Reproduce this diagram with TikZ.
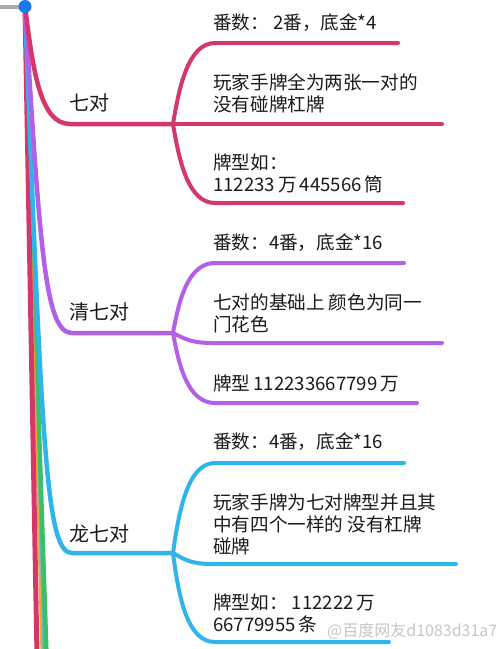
\documentclass[tikz,border=0pt]{standalone}
\usepackage{fontspec}
\newfontfamily\cjk{Noto Sans CJK SC}
\definecolor{cred}{RGB}{212,56,104}
\definecolor{cpurple}{RGB}{178,96,232}
\definecolor{cblue}{RGB}{48,180,236}
\definecolor{cgreen}{RGB}{60,190,108}
\definecolor{corange}{RGB}{242,165,60}
\definecolor{cteal}{RGB}{80,195,195}
\definecolor{croot}{RGB}{24,120,240}
\definecolor{cgray}{RGB}{170,170,170}
\definecolor{ctext}{RGB}{26,26,26}
\begin{document}
\begin{tikzpicture}[x=1pt,y=-1pt,line cap=round,line join=round,
  brline/.style={line width=4pt},
  trunkline/.style={line width=4.5pt},
  leaf/.style={anchor=west,align=left,inner sep=0pt,text=ctext,
    font=\cjk\fontsize{18.6}{22}\selectfont},
  topic/.style={anchor=west,inner sep=0pt,text=ctext,
    font=\cjk\fontsize{20}{24}\selectfont}]
\useasboundingbox (0,0) rectangle (500,649);
\clip (0,0) rectangle (500,649);
\fill[white] (0,0) rectangle (500,649);

% coordinates
\coordinate (r) at (25,6.5);
\coordinate (g) at (0,6.5);
\coordinate (e1) at (37,655);
\coordinate (e2) at (41.5,655);
\coordinate (e3) at (43.5,655);
\coordinate (e4) at (46.5,655);
\coordinate (c1) at (70,124);   \coordinate (h1) at (173,124);
\coordinate (c2) at (72,333);   \coordinate (h2) at (173,333);
\coordinate (c3) at (72,553);   \coordinate (h3) at (173,553);

% thin trunks going further down
\draw[line width=2.5pt,cteal] (r) -- (e3);
\draw[line width=4.5pt,cgreen] (r) -- (e4);
\draw[line width=2pt,corange] (r) -- (e2);
\draw[line width=5pt,cred] (r) -- (e1);

% main trunks
\draw[trunkline,cblue] (r) .. controls (42,450) and (46,553) .. (c3) -- (h3);
\draw[trunkline,cpurple] (r) .. controls (40,250) and (45,333) .. (c2) -- (h2);
\draw[trunkline,cred] (r) .. controls (33,70) and (40,124) .. (c1) -- (h1);

% red branches
\coordinate (a1s) at (215,43);  \coordinate (a1e) at (398,43);
\coordinate (a2e) at (442,124);
\coordinate (a3s) at (215,203); \coordinate (a3e) at (403,203);
\draw[brline,cred] (h1) .. controls (179,88) and (188,43) .. (a1s) -- (a1e);
\draw[brline,cred] (h1) -- (a2e);
\draw[brline,cred] (h1) .. controls (179,160) and (188,203) .. (a3s) -- (a3e);

% purple branches
\coordinate (b1s) at (215,263); \coordinate (b1e) at (404,263);
\coordinate (b2s) at (212,343); \coordinate (b2e) at (442,343);
\coordinate (b3s) at (215,403); \coordinate (b3e) at (417,403);
\draw[brline,cpurple] (h2) .. controls (179,300) and (188,263) .. (b1s) -- (b1e);
\draw[brline,cpurple] (h2) .. controls (185,339) and (192,343) .. (b2s) -- (b2e);
\draw[brline,cpurple] (h2) .. controls (179,366) and (188,403) .. (b3s) -- (b3e);

% blue branches
\coordinate (d1s) at (215,463); \coordinate (d1e) at (404,463);
\coordinate (d2s) at (212,564); \coordinate (d2e) at (456,564);
\coordinate (d3s) at (215,642); \coordinate (d3e) at (389,642);
\draw[brline,cblue] (h3) .. controls (179,510) and (188,463) .. (d1s) -- (d1e);
\draw[brline,cblue] (h3) .. controls (185,560) and (192,564) .. (d2s) -- (d2e);
\draw[brline,cblue] (h3) .. controls (179,600) and (188,642) .. (d3s) -- (d3e);

% root
\draw[line width=4pt,cgray,line cap=butt] (g) -- (r);
\fill[croot] (r) circle (6.5);

% topics
\node[topic] (t1) at (69,102.5) {七对};
\node[topic] (t2) at (69,311.7) {清七对};
\node[topic] (t3) at (69,533.5) {龙七对};

% red texts
\node[leaf] (a1) at (213,23) {番数： 2番，底金*4};
\node[leaf] (a2) at (213,93.3) {玩家手牌全为两张一对的\\没有碰牌杠牌};
\node[leaf] (a3) at (213,173.3) {牌型如：\\112233\,万\,445566\,筒};

% purple texts
\node[leaf] (b1) at (213,243) {番数：4番，底金*16};
\node[leaf] (b2) at (213,313) {七对的基础上 颜色为同一\\门花色};
\node[leaf] (b3) at (213,383) {牌型\,112233667799\,万};

% blue texts
\node[leaf] (d1) at (213,442) {番数：4番，底金*16};
\node[leaf] (d2) at (213,524) {玩家手牌为七对牌型并且其\\中有四个一样的 没有杠牌\\碰牌};
\node[leaf] (d3) at (213,613.5) {牌型如： 112222\,万\\66779955\,条};

% watermark
\node[anchor=west,inner sep=0pt,text=gray!45,font=\cjk\fontsize{16}{16}\selectfont] (wm) at (327,631) {@百度网友d1083d31a7};
\end{tikzpicture}
\end{document}
